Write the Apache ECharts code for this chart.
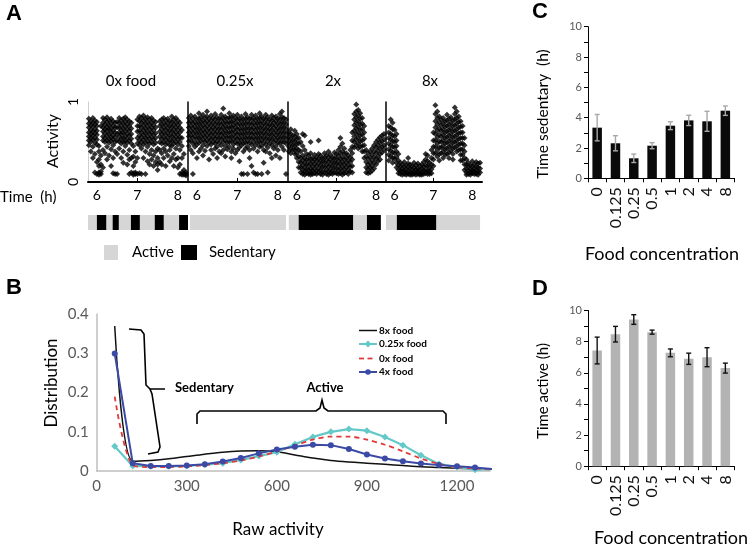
<!DOCTYPE html>
<html><head><meta charset="utf-8">
<script src="https://cdn.jsdelivr.net/npm/echarts@6/dist/echarts.min.js"></script>
<style>html,body{margin:0;padding:0;background:#fff}#c{width:747px;height:547px}</style>
</head><body><div id="c"></div>
<script>
// ---------- Panel A data: activity (percent) per time bin [t, [values]] ----------
const panelTitles = ['0x food', '0.25x', '2x', '8x'];
const timeTicks = [6, 7, 8];
const act0x = [
 [5.80,[79,73,68,62,57,52,46]],[5.85,[76,71,65,60,55,50,38]],[5.90,[80,74,69,63,58,53,44,30]],
 [5.95,[77,72,66,61,55,49,35,12]],[6.00,[75,70,64,59,53,47,25,10]],[6.05,[45,38,28,20,12,9]],
 [6.10,[70,33,22,13,10]],[6.15,[80,74,68,63,57,52,40,18]],[6.20,[78,72,66,61,55,50,36]],
 [6.25,[81,75,69,64,58,52,44,28]],[6.30,[77,71,66,60,54,49,33]],[6.35,[79,73,67,62,56,51,41,20]],
 [6.40,[76,70,64,58,53,46,30,11]],[6.45,[74,68,62,56,50,38,10]],[6.50,[75,68,60,52,35,10]],
 [6.55,[80,74,68,62,57,51,42]],[6.60,[77,71,65,60,54,48,30]],[6.65,[79,73,67,61,55,50,38,24]],
 [6.70,[81,75,69,63,57,51,45]],[6.75,[78,72,66,60,54,49,34,22]],[6.80,[76,70,64,58,52,40,28,10]],
 [6.85,[74,67,60,54,48,30,12]],[6.90,[45,32,20,11,9]],[6.95,[38,25,12,10]],
 [7.00,[78,70,63,55,48,30,10]],[7.05,[82,76,70,64,58,52,46,11]],[7.10,[80,74,68,62,56,50,42,10]],
 [7.15,[83,77,71,65,59,53,47,30]],[7.20,[79,73,67,61,55,49,38,10]],[7.25,[81,75,69,63,57,51,44,26]],
 [7.30,[78,72,66,60,54,48,35,22]],[7.35,[80,74,68,62,56,50,40,28]],[7.40,[77,71,65,59,53,47,33,20]],
 [7.45,[75,68,61,55,49,38,25]],[7.50,[42,30,22,15]],[7.55,[76,70,63,57,50,40,25]],
 [7.60,[78,72,66,60,54,48,36,22]],[7.65,[80,74,68,62,56,50,42,30]],[7.70,[77,71,65,59,53,47,38,20]],
 [7.75,[79,73,67,61,55,49,33]],[7.80,[76,70,64,58,52,46,40,26]],[7.85,[82,75,69,63,57,51,45,30]],
 [7.90,[78,72,66,60,54,48,35,20]],[7.95,[80,74,68,62,56,50,42,28]],[8.00,[77,71,65,59,53,47,30,18]],
 [8.05,[74,68,62,56,50,40,22,10]],[8.10,[65,55,45,30,12,9]],[8.15,[35,15,11,9]],[8.20,[12,10,8]]
];
const act025x = [
 [5.80,[80,74,68,62,57,51,45]],[5.85,[83,76,70,64,58,52,40]],[5.90,[79,73,67,61,55,48,36,10]],
 [5.95,[82,75,69,63,57,50,44]],[6.00,[78,72,66,60,54,47,30]],[6.05,[86,79,73,67,61,55,49,38]],
 [6.10,[81,75,69,63,57,51,42]],[6.15,[84,77,71,65,59,53,46,33]],[6.20,[80,74,68,62,56,50,39]],
 [6.25,[88,82,76,70,64,58,52,45]],[6.30,[79,73,67,61,55,49,28]],[6.35,[83,77,71,65,59,53,47,40]],
 [6.40,[80,74,68,62,56,50,35]],[6.45,[85,78,72,66,60,54,48,42]],[6.50,[81,75,69,63,57,51,44,30]],
 [6.55,[79,73,67,61,55,49,38]],[6.60,[84,78,72,66,60,54,46,36]],[6.65,[92,80,74,68,62,56,50,40]],
 [6.70,[82,76,70,64,58,52,45,32]],[6.75,[79,73,67,61,55,49,41]],[6.80,[86,80,74,68,62,56,50,44]],
 [6.85,[81,75,69,63,57,51,38,30]],[6.90,[83,77,71,65,59,53,47,42]],[6.95,[80,74,68,62,56,50,36]],
 [7.00,[84,78,72,66,60,54,48,40]],[7.05,[79,73,67,61,55,49,43,26]],[7.10,[82,76,70,64,58,52,46,10]],
 [7.15,[78,72,66,60,54,48,38,10]],[7.20,[85,79,73,67,61,55,49,42]],[7.25,[81,75,69,63,57,51,44,10]],
 [7.30,[79,73,67,61,55,49,40,30]],[7.35,[84,78,72,66,60,54,47,20]],[7.40,[80,74,68,62,56,50,42,12]],
 [7.45,[83,77,71,65,59,53,46,10]],[7.50,[79,73,67,61,55,49,38,10]],[7.55,[86,80,74,68,62,56,50,44]],
 [7.60,[82,76,70,64,58,52,45,10]],[7.65,[79,73,67,61,55,49,40,24]],[7.70,[84,78,72,66,60,54,47,38]],
 [7.75,[81,75,69,63,57,51,43,12]],[7.80,[78,72,66,60,54,48,36]],[7.85,[83,77,71,65,59,53,46,30]],
 [7.90,[80,74,68,62,56,50,42]],[7.95,[82,76,70,64,58,52,45,33]],[8.00,[79,73,67,61,55,49,40]],
 [8.05,[85,78,72,66,60,54,48,30]],[8.10,[88,81,75,69,63,57,51,44]],[8.15,[80,74,68,62,56,50,40]],
 [8.20,[78,72,66,60,54,48,10]]
];
const act2x = [
 [5.80,[62,56,50,44,38]],[5.85,[66,60,54,48,42,36]],[5.90,[58,52,46,40]],[5.95,[64,57,51,45,40,35]],
 [6.00,[60,54,48,42,36,30]],[6.05,[55,48,40,32,25,18]],[6.10,[50,38,30,24,18,12]],
 [6.15,[60,45,33,27,21,15,10]],[6.20,[58,40,30,24,18,13,9]],[6.25,[35,28,22,16,11]],
 [6.30,[33,27,21,15,10]],[6.35,[50,36,29,23,17,12,9]],[6.40,[30,25,19,14,10]],[6.45,[34,28,22,16,11]],
 [6.50,[31,26,20,14,10]],[6.55,[52,35,29,23,17,12]],[6.60,[33,27,21,15,10]],[6.65,[30,25,19,13,9]],
 [6.70,[36,30,24,18,12]],[6.75,[33,27,21,15,10]],[6.80,[38,31,25,19,13,9]],[6.85,[34,28,22,16,11]],
 [6.90,[31,26,20,14,10]],[6.95,[37,30,24,18,12]],[7.00,[35,29,23,17,11]],[7.05,[40,33,27,21,15,10]],
 [7.10,[55,44,36,29,23,17,11]],[7.15,[48,38,31,25,19,13,9]],[7.20,[42,35,28,22,16,11]],
 [7.25,[36,30,24,18,12]],[7.30,[33,27,21,15,10]],[7.35,[40,31,25,19,13]],[7.40,[62,52,44,36,28,20,12]],
 [7.45,[85,78,71,64,57,50,43]],[7.50,[97,88,81,74,67,60,53,46]],[7.55,[90,83,76,69,62,55,48,42]],
 [7.60,[86,79,72,65,58,51,44]],[7.65,[80,73,66,59,52,45,38]],[7.70,[70,62,54,46,38,30]],
 [7.75,[40,32,25,18,12]],[7.80,[36,29,22,16,11]],[7.85,[38,31,24,18,12]],[7.90,[42,34,27,20,14]],
 [7.95,[46,38,31,24,17]],[8.00,[50,43,36,29,22]],[8.05,[53,46,39,32,26]],[8.10,[56,49,42,35,28]],
 [8.15,[58,51,44,37]],[8.20,[60,53,46,40]]
];
const act8x = [
 [5.85,[70,62,55,48,41,34,27]],[5.90,[78,68,60,53,46,39,32]],[5.95,[74,66,58,51,44,37,30,24]],
 [6.00,[65,57,50,43,36,29]],[6.05,[60,52,45,38,31,24,18]],[6.10,[35,27,21,15,11]],[6.15,[24,19,14,10]],
 [6.20,[22,17,13,9]],[6.25,[25,19,14,10]],[6.30,[21,16,12,9]],[6.35,[30,23,18,13,10]],[6.40,[22,17,12,9]],
 [6.45,[20,15,11,9]],[6.50,[24,18,13,10]],[6.55,[21,16,12,9]],[6.60,[23,17,13,10]],[6.65,[20,15,11,9]],
 [6.70,[22,17,12,9]],[6.75,[25,19,14,10]],[6.80,[35,28,21,15,11]],[6.85,[33,26,20,14,10]],
 [6.90,[24,18,13,10]],[6.95,[40,30,22,16,11]],[7.00,[62,52,44,36,28,20]],
 [7.05,[96,85,76,68,60,52,44,36]],[7.10,[88,80,72,64,56,48,40,32]],[7.15,[82,75,67,59,51,43,35,27]],
 [7.20,[78,71,64,57,50,43,36]],[7.25,[80,73,66,59,52,45,38,30]],[7.30,[76,69,62,55,48,41,34]],
 [7.35,[84,77,70,63,56,49,42,35]],[7.40,[79,72,65,58,51,44,37,30]],[7.45,[81,74,67,60,53,46,39]],
 [7.50,[77,70,63,56,49,42,35,28]],[7.55,[93,85,78,71,64,57,50,43]],[7.60,[88,80,73,66,59,52,45,38]],
 [7.65,[82,75,68,61,54,47,40]],[7.70,[76,69,62,55,48,41,34,27]],[7.75,[70,62,55,48,41,34,27]],
 [7.80,[55,46,38,30,22,15]],[7.85,[28,22,17,12,9]],[7.90,[24,19,14,10]],[7.95,[21,16,12,9]],
 [8.00,[26,20,15,11]],[8.05,[22,17,13,10]],[8.10,[25,19,14,10]],[8.15,[23,18,13,9]],[8.20,[24,17,12]]
];
// state spans [start, end, 0=active/1=sedentary]
const states0x = [[5.78,8.25,0],[6.00,6.23,1],[6.39,6.54,1],[6.84,7.06,1],[7.43,7.65,1],[8.03,8.25,1]];
const states025x = [[5.83,8.20,0]];
const states2x = [[5.80,8.12,0],[6.05,7.42,1],[7.77,8.12,1]];
const states8x = [[5.78,8.20,0],[6.06,7.07,1]];

// ---------- Panel B data ----------
const rawBins = [60,120,180,240,300,360,420,480,540,600,660,720,780,840,900,960,1020,1080,1140,1200,1260,1320];
const food8 = [0.37,0.025,0.027,0.031,0.037,0.043,0.048,0.051,0.052,0.049,0.041,0.033,0.027,0.023,0.02,0.017,0.014,0.011,0.009,0.007,0.006,0.005];
const food025 = [0.063,0.013,0.012,0.012,0.013,0.016,0.02,0.028,0.038,0.048,0.068,0.087,0.1,0.107,0.103,0.087,0.066,0.04,0.018,0.01,0.003,0.005];
const food0 = [0.19,0.015,0.01,0.01,0.012,0.015,0.02,0.027,0.037,0.05,0.065,0.08,0.088,0.088,0.08,0.067,0.05,0.032,0.018,0.01,0.006,0.004];
const food4 = [0.30,0.02,0.013,0.013,0.014,0.017,0.024,0.033,0.045,0.055,0.062,0.067,0.066,0.056,0.042,0.032,0.025,0.019,0.015,0.012,0.009,0.005];
const rawTicks = [0,300,600,900,1200];
const legendNames = ['8x food','0.25x food','0x food','4x food'];

// ---------- Panels C & D ----------
const foodCats = ['0','0.125','0.25','0.5','1','2','4','8'];
const sedMean = [3.34,2.31,1.32,2.15,3.47,3.82,3.76,4.46];
const sedErr = [0.87,0.5,0.28,0.2,0.26,0.34,0.66,0.31];
const actMean = [7.43,8.48,9.42,8.61,7.28,6.9,7.0,6.3];
const actErr = [0.86,0.5,0.31,0.13,0.25,0.36,0.61,0.32];

const FF = 'Lato';
const chart = echarts.init(document.getElementById('c'), null, {renderer:'canvas'});

const panels = [act0x, act025x, act2x, act8x];
const statesAll = [states0x, states025x, states2x, states8x];
const aLeft = [88, 188, 288, 386], aWidth = [100, 100, 98, 96];

const grids = [], xAxes = [], yAxes = [], series = [];
for (let i = 0; i < 4; i++) {
  grids.push({left:aLeft[i], top:102, width:aWidth[i], height:80});
  xAxes.push({gridIndex:i, type:'value', min:5.78, max:8.25,
    axisLine:{show:true, lineStyle:{color:'#000', width:2}},
    axisTick:{show:true, inside:true, length:4, customValues:[7], lineStyle:{color:'#000'}},
    axisLabel:{customValues:timeTicks, fontFamily:FF, fontSize:14, color:'#000', margin:6},
    splitLine:{show:false}});
  yAxes.push({gridIndex:i, type:'value', min:0, max:1,
    axisLine:{show:true, lineStyle:{color: i===0 ? '#cfcfcf' : '#000', width: i===0 ? 1 : 1.5}},
    axisTick:{show:false},
    axisLabel:{show: i===0, customValues:[0,1], rotate:90, fontFamily:FF, fontSize:14, color:'#000', margin:8},
    splitLine:{show:false}});
  const pts = [];
  panels[i].forEach(b => b[1].forEach(v => pts.push([b[0], v/100])));
  series.push({type:'scatter', xAxisIndex:i, yAxisIndex:i, data:pts, symbol:'diamond', symbolSize:6,
    itemStyle:{color:'#000'}, silent:true});
  series.push({type:'custom', xAxisIndex:i, yAxisIndex:i, clip:false, silent:true,
    data: statesAll[i], encode:{x:[0,1]},
    renderItem:(params, api) => {
      const a = api.coord([api.value(0), 0.5]), b = api.coord([api.value(1), 0.5]);
      return {type:'rect', shape:{x:a[0], y:215, width:b[0]-a[0], height:15},
        style:{fill: api.value(2) === 1 ? '#000' : '#d6d6d6'}};
    }});
}

// Panel B grid (index 4)
grids.push({left:96.7, top:314.3, width:393.3, height:156.7});
xAxes.push({gridIndex:4, type:'value', min:0, max:1310,
  axisLine:{show:true, lineStyle:{color:'#bfbfbf', width:1.5}}, axisTick:{show:false},
  axisLabel:{customValues:rawTicks, formatter:v => String(v), fontFamily:FF, fontSize:15, color:'#595959', margin:8},
  splitLine:{show:false}});
yAxes.push({gridIndex:4, type:'value', min:0, max:0.4, interval:0.1,
  axisLine:{show:true, lineStyle:{color:'#bfbfbf', width:1.5}}, axisTick:{show:false},
  axisLabel:{fontFamily:FF, fontSize:15, color:'#595959', margin:8},
  splitLine:{show:false}});
const zipB = arr => rawBins.map((x, k) => [x, arr[k]]);
series.push({name:legendNames[0], type:'line', xAxisIndex:4, yAxisIndex:4, data:zipB(food8), symbol:'none',
  smooth:0.35, lineStyle:{color:'#111', width:1.5}, itemStyle:{color:'#111'}, z:2});
series.push({name:legendNames[1], type:'line', xAxisIndex:4, yAxisIndex:4, data:zipB(food025), symbol:'diamond',
  symbolSize:7, lineStyle:{color:'#66c9c9', width:2.2}, itemStyle:{color:'#66c9c9'}, z:3});
series.push({name:legendNames[2], type:'line', xAxisIndex:4, yAxisIndex:4, data:zipB(food0), symbol:'none',
  smooth:0.3, lineStyle:{color:'#e03a3a', width:1.8, type:[5,4]}, itemStyle:{color:'#e03a3a'}, z:4});
series.push({name:legendNames[3], type:'line', xAxisIndex:4, yAxisIndex:4, data:zipB(food4), symbol:'circle',
  symbolSize:6, lineStyle:{color:'#3a4aa5', width:2}, itemStyle:{color:'#3a4aa5'}, z:5});

// Panels C (5) and D (6)
function catX(gi) {
  return {gridIndex:gi, type:'category', data:foodCats,
    axisLine:{show:true, lineStyle:{color:'#000', width:1}},
    axisTick:{show:true, length:4, lineStyle:{color:'#000'}},
    axisLabel:{interval:0, rotate:90, fontFamily:FF, fontSize:16, color:'#111', margin:9}};
}
function valY(gi) {
  return {gridIndex:gi, type:'value', min:0, max:10, interval:1,
    axisLine:{show:true, lineStyle:{color:'#000', width:1}},
    axisTick:{show:true, length:4, lineStyle:{color:'#000'}},
    axisLabel:{fontFamily:FF, fontSize:11, color:'#595959', margin:6,
      formatter: v => (v % 2 === 0 ? String(v) : '')},
    splitLine:{show:false}};
}
grids.push({left:588, top:26.7, width:146.5, height:151.6});
grids.push({left:588, top:310.5, width:146.5, height:155.7});
xAxes.push(catX(5)); xAxes.push(catX(6));
yAxes.push(valY(5)); yAxes.push(valY(6));

function errRender(color) {
  return (params, api) => {
    const i = api.value(0), v = api.value(1), e = api.value(2);
    const p1 = api.coord([i, v + e]), p2 = api.coord([i, v - e]);
    const w = 2.5, s = {stroke:color, lineWidth:1.4};
    return {type:'group', children:[
      {type:'line', shape:{x1:p1[0], y1:p1[1], x2:p2[0], y2:p2[1]}, style:s},
      {type:'line', shape:{x1:p1[0]-w, y1:p1[1], x2:p1[0]+w, y2:p1[1]}, style:s},
      {type:'line', shape:{x1:p2[0]-w, y1:p2[1], x2:p2[0]+w, y2:p2[1]}, style:s}]};
  };
}
series.push({type:'bar', xAxisIndex:5, yAxisIndex:5, data:sedMean, barWidth:9.5, itemStyle:{color:'#0a0a0a'}, silent:true});
series.push({type:'custom', xAxisIndex:5, yAxisIndex:5, data:foodCats.map((c,i)=>[i, sedMean[i], sedErr[i]]),
  encode:{x:0, y:1}, renderItem:errRender('#a8a8a8'), silent:true, z:5});
series.push({type:'bar', xAxisIndex:6, yAxisIndex:6, data:actMean, barWidth:9.5, itemStyle:{color:'#b3b3b3'}, silent:true});
series.push({type:'custom', xAxisIndex:6, yAxisIndex:6, data:foodCats.map((c,i)=>[i, actMean[i], actErr[i]]),
  encode:{x:0, y:1}, renderItem:errRender('#111'), silent:true, z:5});

// ---------- Annotations ----------
function txt(x, y, t, size, opt) {
  opt = opt || {};
  return {type:'text', x:x, y:y, rotation:opt.rot || 0, silent:true,
    style:{text:t, fontFamily:opt.ff || FF, fontSize:size, fontWeight:opt.bold ? 'bold' : 'normal',
      fill:opt.color || '#000', align:opt.align || 'center', verticalAlign:'middle'}};
}
function seg(x1, y1, x2, y2, color, w) {
  return {type:'line', silent:true, shape:{x1:x1, y1:y1, x2:x2, y2:y2}, style:{stroke:color, lineWidth:w}};
}
// legend of panel B (drawn manually: line key + marker + label)
const lgY = [330.5, 344, 358.5, 372];
const legendB = [
  seg(359, lgY[0], 377, lgY[0], '#111', 1.5),
  seg(359, lgY[1], 377, lgY[1], '#66c9c9', 2),
  {type:'polygon', silent:true, shape:{points:[[368,340.5],[371.5,344],[368,347.5],[364.5,344]]}, style:{fill:'#66c9c9'}},
  seg(359, lgY[2], 364, lgY[2], '#e03a3a', 1.8), seg(367.5, lgY[2], 372.5, lgY[2], '#e03a3a', 1.8),
  seg(359, lgY[3], 377, lgY[3], '#3a4aa5', 2),
  {type:'circle', silent:true, shape:{cx:368, cy:lgY[3], r:2.8}, style:{fill:'#3a4aa5'}}
];
legendNames.forEach((n, k) => legendB.push(txt(379, lgY[k], n, 10, {bold:true, align:'left'})));

const graphics = [
  txt(14, 14, 'A', 22, {bold:true, ff:'Liberation Sans'}),
  txt(14, 288, 'B', 22, {bold:true, ff:'Liberation Sans'}),
  txt(540, 12, 'C', 22, {bold:true, ff:'Liberation Sans'}),
  txt(540, 289, 'D', 22, {bold:true, ff:'Liberation Sans'}),
  txt(131, 81, panelTitles[0], 15), txt(235, 81, panelTitles[1], 15),
  txt(333, 81, panelTitles[2], 15), txt(430, 81, panelTitles[3], 15),
  txt(53, 141, 'Activity', 16, {rot:Math.PI/2}),
  txt(0, 197, 'Time  (h)', 15, {align:'left'}),
  {type:'rect', shape:{x:104, y:245, width:14, height:15}, style:{fill:'#d6d6d6'}, silent:true},
  txt(132, 252, 'Active', 15, {align:'left'}),
  {type:'rect', shape:{x:181, y:245, width:16, height:15}, style:{fill:'#000'}, silent:true},
  txt(209, 252, 'Sedentary', 15, {align:'left'}),
  txt(52, 383, 'Distribution', 17, {rot:Math.PI/2}),
  txt(278, 530, 'Raw activity', 17),
  {type:'polyline', silent:true, shape:{points:[[129,329],[141,330],[144,334],[146,385],[150,389],[165,389]]},
    style:{stroke:'#000', lineWidth:1.6, fill:null}},
  {type:'polyline', silent:true, shape:{points:[[150,389],[152,394],[160,447],[158,452],[148,454]]},
    style:{stroke:'#000', lineWidth:1.6, fill:null}},
  {type:'polyline', silent:true, shape:{points:[[197,424],[197,414],[200,411],[316,411],[320,408],[322,400],[324,408],[328,411],[443,411],[446,414],[446,424]]},
    style:{stroke:'#000', lineWidth:1.6, fill:null}},
  txt(175, 388, 'Sedentary', 13, {bold:true, align:'left'}),
  txt(325, 388, 'Active', 13, {bold:true}),
  txt(543, 114, 'Time sedentary  (h)', 15.5, {rot:Math.PI/2}),
  txt(662, 254, 'Food concentration', 18),
  txt(543, 391, 'Time active (h)', 15, {rot:Math.PI/2}),
  txt(671, 538, 'Food concentration', 18)
].concat(legendB);

chart.setOption({
  animation:false,
  grid:grids, xAxis:xAxes, yAxis:yAxes, series:series,
  graphic:graphics
});
</script></body></html>
